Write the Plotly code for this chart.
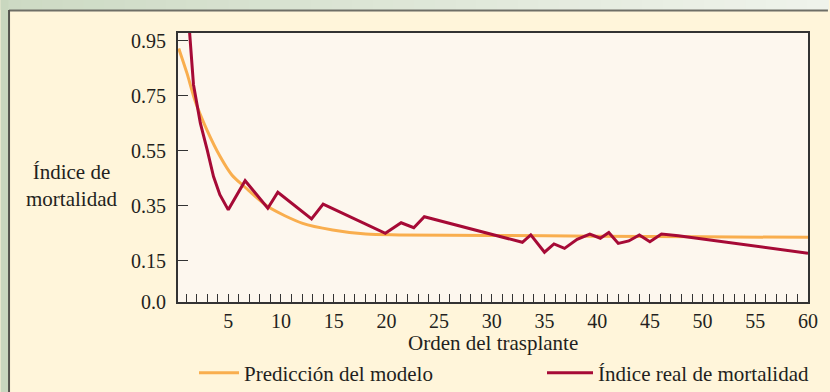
import plotly.graph_objects as go

# Model prediction (smooth curve) read at sample points
model_x = [0.3, 1.08, 1.88, 2.98, 4.24, 5.34, 6.54, 8.75, 12.06, 14.9, 18.05, 21.2, 30, 40, 50, 60]
model_y = [0.922, 0.832, 0.728, 0.625, 0.528, 0.462, 0.419, 0.347, 0.286, 0.262, 0.247, 0.244, 0.242, 0.239, 0.237, 0.235]

# Observed mortality index
real_x = [1.0, 1.3, 1.7, 2.0, 2.35, 3.0, 3.6, 4.2, 5.0, 6.6, 8.75, 9.7, 12.9, 14.0, 19.9,
          21.4, 22.6, 23.6, 29.4, 32.9, 33.7, 35.0, 35.9, 36.9, 38.1, 39.3, 40.3, 41.1,
          42.0, 43.0, 44.0, 45.0, 46.1, 47.7, 60.0]
real_y = [1.15, 0.98, 0.79, 0.725, 0.65, 0.553, 0.456, 0.39, 0.335, 0.441, 0.341, 0.399, 0.302, 0.356, 0.25,
          0.288, 0.27, 0.31, 0.252, 0.217, 0.244, 0.181, 0.211, 0.195, 0.228, 0.247, 0.232, 0.253,
          0.213, 0.222, 0.244, 0.219, 0.247, 0.241, 0.177]

y_tickvals = [0.0, 0.15, 0.35, 0.55, 0.75, 0.95]
y_ticktext = ["0.0", "0.15", "0.35", "0.55", "0.75", "0.95"]
x_tickvals = [5, 10, 15, 20, 25, 30, 35, 40, 45, 50, 55, 60]

W, H = 830, 392
L, R, T, B = 178, 20, 33, 90
PW, PH = W - L - R, H - T - B

ORANGE = "#F9AE4E"
CRIMSON = "#A60A36"
FONT = "Liberation Serif, Times New Roman, serif"


def px(xp):
    return (xp - L) / PW


def py(yp):
    return (H - B - yp) / PH


fig = go.Figure()
fig.add_trace(go.Scatter(
    x=model_x, y=model_y, mode="lines", name="Predicción del modelo",
    line=dict(color=ORANGE, width=3, shape="spline", smoothing=0.8),
    legend="legend",
))
fig.add_trace(go.Scatter(
    x=real_x, y=real_y, mode="lines", name="Índice real de mortalidad",
    line=dict(color=CRIMSON, width=3),
    legend="legend2",
))

shapes = []
# top strip with a soft green gradient
n = 40
c0 = (0xCD, 0xDA, 0xC4)
c1 = (0xEF, 0xF3, 0xEB)
for i in range(n):
    t = i / (n - 1)
    col = "rgb(%d,%d,%d)" % tuple(round(a + (b - a) * t) for a, b in zip(c0, c1))
    shapes.append(dict(type="rect", xref="paper", yref="paper",
                       x0=px(i * W / n), x1=px((i + 1) * W / n + 1), y0=py(10), y1=py(0),
                       fillcolor=col, line=dict(width=0), layer="below"))
# left strip
shapes.append(dict(type="rect", xref="paper", yref="paper", x0=px(0), x1=px(8), y0=py(H), y1=py(0),
                   fillcolor="#C9D7BF", line=dict(width=0), layer="below"))
# panel edges
shapes.append(dict(type="line", xref="paper", yref="paper", x0=px(8.5), x1=px(W), y0=py(10.5), y1=py(10.5),
                   line=dict(color="#6E6E66", width=2), layer="below"))
shapes.append(dict(type="line", xref="paper", yref="paper", x0=px(8.5), x1=px(8.5), y0=py(10), y1=py(H),
                   line=dict(color="#55554F", width=2), layer="below"))

legend_common = dict(orientation="h", xref="container", yref="container",
                     xanchor="left", yanchor="middle",
                     bgcolor="rgba(0,0,0,0)", font=dict(size=21, family=FONT))

fig.update_layout(
    width=W, height=H,
    margin=dict(l=L, r=R, t=T, b=B),
    paper_bgcolor="#FFF5DA",
    plot_bgcolor="#FDF7EE",
    font=dict(family=FONT, size=20, color="#231F20"),
    shapes=shapes,
    showlegend=True,
    legend=dict(x=194 / W, y=1 - 373 / H, itemwidth=40, **legend_common),
    legend2=dict(x=542 / W, y=1 - 373 / H, itemwidth=46, **legend_common),
    annotations=[
        dict(text="Índice de<br>mortalidad", xref="paper", yref="paper",
             x=px(71), y=py(185), xanchor="center", yanchor="middle",
             showarrow=False, font=dict(size=21, family=FONT)),
        dict(text="Orden del trasplante", xref="paper", yref="paper",
             x=0.5, y=py(343), xanchor="center", yanchor="middle",
             showarrow=False, font=dict(size=21, family=FONT)),
    ],
)

fig.update_xaxes(
    range=[0.23, 60], tickvals=x_tickvals, ticks="inside", ticklen=8, tickwidth=1.2,
    tickcolor="#333", showgrid=False, zeroline=False,
    showline=True, linecolor="#333", linewidth=2, mirror=True,
    minor=dict(dtick=1, tick0=0, ticks="inside", ticklen=8, tickwidth=1.2, tickcolor="#333", showgrid=False),
    ticklabelstandoff=0,
)
fig.update_yaxes(
    range=[0, 0.978], tickvals=y_tickvals, ticktext=y_ticktext, ticks="inside", ticklen=10,
    tickwidth=1.2, tickcolor="#333", showgrid=False, zeroline=False,
    showline=True, linecolor="#333", linewidth=2, mirror=True,
    ticklabelstandoff=6,
)

fig.write_html("out.html")
